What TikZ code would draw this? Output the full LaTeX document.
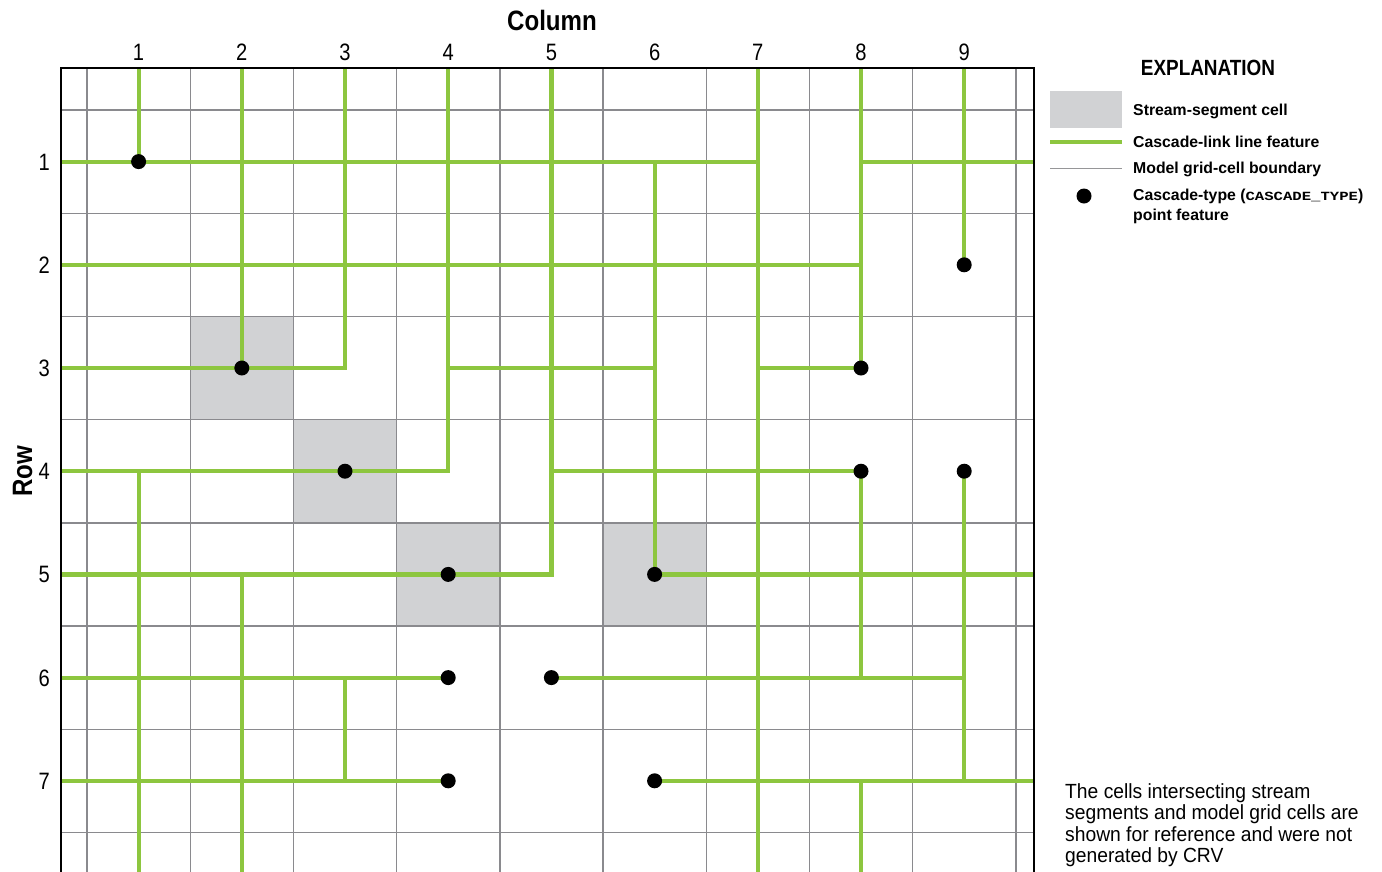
\documentclass[tikz,border=0pt]{standalone}
\usepackage{fontspec}
\setmainfont{Liberation Sans}
\newfontfamily\cnd[FakeStretch=0.85]{Liberation Sans}
\newfontfamily\cndb[FakeStretch=0.86]{Liberation Sans}
\newfontfamily\nrw[FakeStretch=0.94]{Liberation Sans}
\newfontfamily\monob[FakeStretch=1.25]{Liberation Mono}
\definecolor{linkgreen}{RGB}{141,198,63}
\definecolor{gridgray}{RGB}{138,138,142}
\definecolor{cellgray}{RGB}{209,210,212}
\definecolor{leggray}{RGB}{150,150,152}
\begin{document}
\begin{tikzpicture}[x=1pt,y=-1pt,
  grn/.style={draw=linkgreen, line width=4.2pt, line join=miter},
  gridl/.style={draw=gridgray, line width=1.4pt},
  dotn/.style={circle, fill=black, inner sep=0pt, minimum size=15pt},
  lab/.style={font=\cnd\fontsize{23.7}{26}\selectfont, inner sep=0pt},
  ttl/.style={font=\cndb\bfseries\fontsize{28}{30}\selectfont, inner sep=0pt},
  legtxt/.style={font=\bfseries\fontsize{15.8}{18}\selectfont, inner sep=0pt, anchor=base west},
  note/.style={font=\nrw\fontsize{20.5}{21.5}\selectfont, inner sep=0pt, anchor=base west},
  ]
\useasboundingbox (0,0) rectangle (1382,871);
\def\gs{103.2}
% named cell centres and frame points
\foreach \i in {1,...,9} {
  \foreach \j in {1,...,7} {
    \coordinate (c-\i-\j) at ({138.6+\gs*(\i-1)},{161.6+\gs*(\j-1)});
  }
  \coordinate (t-\i) at ({138.6+\gs*(\i-1)},68);
  \coordinate (b-\i) at ({138.6+\gs*(\i-1)},874);
}
\foreach \j in {1,...,7} {
  \coordinate (l-\j) at (61,{161.6+\gs*(\j-1)});
  \coordinate (r-\j) at (1034,{161.6+\gs*(\j-1)});
}
% stream-segment cells
\foreach \i/\j in {2/3,3/4,4/5,6/5}
  \fill[cellgray] ({87+\gs*(\i-1)},{110+\gs*(\j-1)}) rectangle +(\gs,\gs);
% model grid
\foreach \k in {0,...,9}
  \draw[gridl] ({87+\gs*\k},68) -- ({87+\gs*\k},874);
\foreach \k in {0,...,7}
  \draw[gridl] (61,{110+\gs*\k}) -- (1034,{110+\gs*\k});
% cascade links
\draw[grn] (t-1) -- (c-1-1);
\draw[grn] (l-1) -- (c-7-1);
\draw[grn] (t-2) -- (c-2-3);
\draw[grn] (t-3) -- (c-3-3) -- (l-3);
\draw[grn] (t-4) -- (c-4-4) -- (l-4);
\draw[grn] (t-5) -- (c-5-5) -- (l-5);
\draw[grn] (t-7) -- (b-7);
\draw[grn] (t-8) -- (c-8-3) -- (c-7-3);
\draw[grn] (c-8-1) -- (r-1);
\draw[grn] (t-9) -- (c-9-2);
\draw[grn] (l-2) -- (c-8-2);
\draw[grn] (c-6-1) -- (c-6-5);
\draw[grn] (c-4-3) -- (c-6-3);
\draw[grn] (c-5-4) -- (c-8-4);
\draw[grn] (c-8-4) -- (c-8-6);
\draw[grn] (c-5-6) -- (c-9-6);
\draw[grn] (c-9-4) -- (c-9-7);
\draw[grn] (c-6-5) -- (r-5);
\draw[grn] (c-6-7) -- (r-7);
\draw[grn] (c-8-7) -- (b-8);
\draw[grn] (c-1-4) -- (b-1);
\draw[grn] (c-2-5) -- (b-2);
\draw[grn] (l-6) -- (c-4-6);
\draw[grn] (c-3-6) -- (c-3-7);
\draw[grn] (l-7) -- (c-4-7);
% frame
\draw[line width=2.8pt, line join=miter] (61,874) -- (61,68) -- (1034,68) -- (1034,874);
% cascade-type points
\foreach \i/\j in {1/1,2/3,3/4,4/5,6/5,4/6,5/6,4/7,6/7,8/3,8/4,9/4,9/2}
  \node[dotn] (d-\i-\j) at (c-\i-\j) {};
% axis labels
\foreach \i in {1,...,9}
  \node[lab, anchor=base] (cl-\i) at ({138.6+\gs*(\i-1)},60) {\i};
\foreach \j in {1,...,7}
  \node[lab, anchor=base east] (rl-\j) at (50,{170+\gs*(\j-1)}) {\j};
\node[ttl, anchor=base] (coltitle) at (552,30) {Column};
\node[ttl, anchor=base, rotate=90] (rowtitle) at (32,471) {Row};
% explanation
\node[font=\cndb\bfseries\fontsize{22}{24}\selectfont, inner sep=0pt, anchor=base] (expl) at (1208,75) {EXPLANATION};
\node[fill=cellgray, inner sep=0pt, minimum width=72pt, minimum height=37pt] (legcell) at (1086,109.5) {};
\coordinate (lg1a) at (1050,142); \coordinate (lg1b) at (1122,142);
\draw[grn] (lg1a) -- (lg1b);
\coordinate (lg2a) at (1050,168); \coordinate (lg2b) at (1122,168);
\draw[draw=leggray, line width=1pt] (lg2a) -- (lg2b);
\node[dotn] (legdot) at (1084,196) {};
\node[legtxt] (t1) at (1133,115.5) {Stream-segment cell};
\node[legtxt] (t2) at (1133,147) {Cascade-link line feature};
\node[legtxt] (t3) at (1133,173) {Model grid-cell boundary};
\node[legtxt] (t4) at (1133,200.5) {Cascade-type ({\monob\bfseries\fontsize{12.5}{14}\selectfont CASCADE\_TYPE})};
\node[legtxt] (t5) at (1133,220.5) {point feature};
% note
\node[note] (n1) at (1065,798) {The cells intersecting stream};
\node[note] (n2) at (1065,819.5) {segments and model grid cells are};
\node[note] (n3) at (1065,841) {shown for reference and were not};
\node[note] (n4) at (1065,862.5) {generated by CRV};
\end{tikzpicture}
\end{document}
